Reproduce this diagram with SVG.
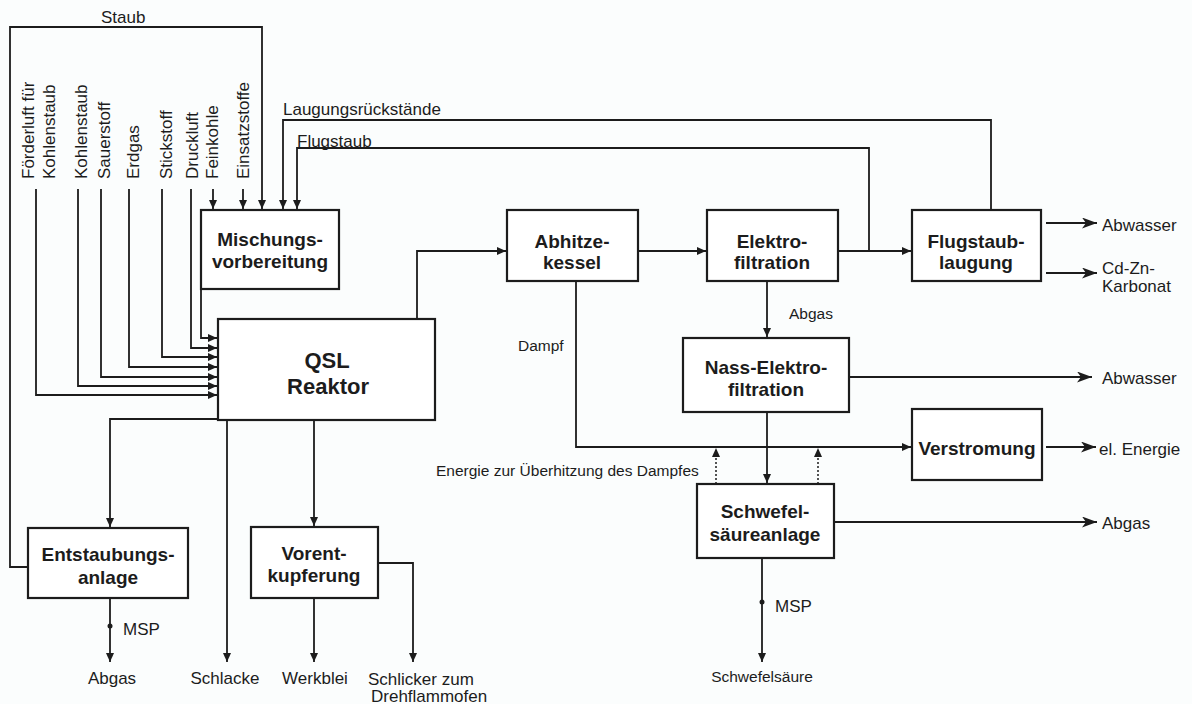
<svg xmlns="http://www.w3.org/2000/svg" width="1192" height="704" viewBox="0 0 1192 704">
  <defs>
    <style>
      .box { fill: #ffffff; stroke: #1c1c1c; stroke-width: 2.2; }
      .ln { fill: none; stroke: #1c1c1c; stroke-width: 1.8; }
      .dot { fill: none; stroke: #1c1c1c; stroke-width: 1.5; stroke-dasharray: 2 2; }
      .t { font-family: "Liberation Sans", Arial, sans-serif; font-size: 17px; fill: #1c1c1c; }
      .s { font-family: "Liberation Sans", Arial, sans-serif; font-size: 15.5px; fill: #1c1c1c; }
      .b { font-family: "Liberation Sans", Arial, sans-serif; font-size: 19px; font-weight: bold; fill: #1c1c1c; text-anchor: middle; }
      .big { font-family: "Liberation Sans", Arial, sans-serif; font-size: 22px; font-weight: bold; fill: #1c1c1c; text-anchor: middle; }
      .m { text-anchor: middle; }
    </style>
    <marker id="ah" markerUnits="userSpaceOnUse" markerWidth="9" markerHeight="8" refX="9" refY="4" orient="auto">
      <path d="M0,0 L9,4 L0,8 z" fill="#1c1c1c"/>
    </marker>
    <marker id="out" markerUnits="userSpaceOnUse" markerWidth="15" markerHeight="11" refX="15" refY="5.5" orient="auto">
      <path d="M0,0 L15,5.5 L0,11 L4,5.5 z" fill="#1c1c1c"/>
    </marker>
  </defs>

  <rect width="1192" height="704" fill="#fbfdfd"/>

  <!-- flow lines -->
  <g id="connectors">
    <!-- Staub recycle from Entstaubungsanlage -->
    <path class="ln" d="M28,567 H10 V27 H262 V209" marker-end="url(#ah)"/>
    <!-- Laugungsrückstände return -->
    <path class="ln" d="M991,210 V120 H283 V209" marker-end="url(#ah)"/>
    <!-- Flugstaub return -->
    <path class="ln" d="M869,251 V148 H297 V209" marker-end="url(#ah)"/>
    <!-- feed inputs into mixing -->
    <path class="ln" d="M213,189 V209" marker-end="url(#ah)"/>
    <path class="ln" d="M243,189 V209" marker-end="url(#ah)"/>
    <!-- feed inputs into reactor -->
    <path class="ln" d="M201,289 V338 H217" marker-end="url(#ah)"/>
    <path class="ln" d="M191,189 V348 H217" marker-end="url(#ah)"/>
    <path class="ln" d="M162,189 V357 H217" marker-end="url(#ah)"/>
    <path class="ln" d="M129,189 V367 H217" marker-end="url(#ah)"/>
    <path class="ln" d="M101,189 V377 H217" marker-end="url(#ah)"/>
    <path class="ln" d="M78,189 V386 H217" marker-end="url(#ah)"/>
    <path class="ln" d="M36,189 V395 H217" marker-end="url(#ah)"/>
    <!-- gas route -->
    <path class="ln" d="M417,319 V251 H506" marker-end="url(#ah)"/>
    <path class="ln" d="M639,251 H706" marker-end="url(#ah)"/>
    <path class="ln" d="M839,251 H911" marker-end="url(#ah)"/>
    <path class="ln" d="M767,282 V337" marker-end="url(#ah)"/>
    <path class="ln" d="M767,413 V483" marker-end="url(#ah)"/>
    <!-- steam to power -->
    <path class="ln" d="M576,282 V447 H911" marker-end="url(#ah)"/>
    <path class="dot" d="M716,484 V448" marker-end="url(#ah)"/>
    <path class="dot" d="M818,484 V448" marker-end="url(#ah)"/>
    <!-- outputs right -->
    <path class="ln" d="M1046,223 H1097" marker-end="url(#out)"/>
    <path class="ln" d="M1046,273 H1097" marker-end="url(#out)"/>
    <path class="ln" d="M850,377 H1092" marker-end="url(#out)"/>
    <path class="ln" d="M1046,447 H1096" marker-end="url(#out)"/>
    <path class="ln" d="M835,522 H1097" marker-end="url(#out)"/>
    <!-- outputs bottom -->
    <path class="ln" d="M762,559 V662" marker-end="url(#ah)"/>
    <circle cx="762" cy="602" r="2.5" fill="#1c1c1c"/>
    <path class="ln" d="M218,419 H110 V527" marker-end="url(#ah)"/>
    <path class="ln" d="M110,599 V662" marker-end="url(#ah)"/>
    <circle cx="110" cy="626" r="2.5" fill="#1c1c1c"/>
    <path class="ln" d="M227,421 V662" marker-end="url(#ah)"/>
    <path class="ln" d="M314,421 V526" marker-end="url(#ah)"/>
    <path class="ln" d="M314,599 V662" marker-end="url(#ah)"/>
    <path class="ln" d="M379,563 H413 V662" marker-end="url(#ah)"/>
  </g>

  <!-- stream labels -->
  <g id="labels">
    <text class="t" x="101" y="23">Staub</text>
    <text class="t" x="283" y="115">Laugungsrückstände</text>
    <text class="t" x="297" y="147">Flugstaub</text>
    <text class="t" transform="translate(34,179) rotate(-90)">Förderluft für</text>
    <text class="t" transform="translate(55,179) rotate(-90)">Kohlenstaub</text>
    <text class="t" transform="translate(87,179) rotate(-90)">Kohlenstaub</text>
    <text class="t" transform="translate(110,179) rotate(-90)">Sauerstoff</text>
    <text class="t" transform="translate(139,179) rotate(-90)">Erdgas</text>
    <text class="t" transform="translate(172,179) rotate(-90)">Stickstoff</text>
    <text class="t" transform="translate(198,179) rotate(-90)">Druckluft</text>
    <text class="t" transform="translate(218,179) rotate(-90)">Feinkohle</text>
    <text class="t" transform="translate(249,179) rotate(-90)">Einsatzstoffe</text>
    <text class="t" x="1102" y="231">Abwasser</text>
    <text class="t" x="1102" y="274">Cd-Zn-</text>
    <text class="t" x="1102" y="292">Karbonat</text>
    <text class="s" x="789" y="319">Abgas</text>
    <text class="s" x="518" y="351">Dampf</text>
    <text class="t" x="1102" y="384">Abwasser</text>
    <text class="t" x="1099" y="455">el. Energie</text>
    <text class="s" x="436" y="476">Energie zur Überhitzung des Dampfes</text>
    <text class="t" x="1102" y="529">Abgas</text>
    <text class="t" x="775" y="612">MSP</text>
    <text class="t" x="123" y="635">MSP</text>
    <text class="t m" x="112" y="684">Abgas</text>
    <text class="t m" x="225" y="684">Schlacke</text>
    <text class="t m" x="315" y="684">Werkblei</text>
    <text class="t" x="368" y="685">Schlicker zum</text>
    <text class="t" x="371" y="702">Drehflammofen</text>
    <text class="s m" x="762" y="682">Schwefelsäure</text>
  </g>

  <g id="mischungsvorbereitung">
    <rect class="box" x="201" y="210" width="138" height="79"/>
    <text class="b" x="270" y="246">Mischungs-</text>
    <text class="b" x="270" y="268">vorbereitung</text>
  </g>
  <g id="qsl-reaktor">
    <rect class="box" x="218" y="319" width="217" height="101"/>
    <text class="big" x="327" y="368">QSL</text>
    <text class="big" x="328" y="394">Reaktor</text>
  </g>
  <g id="abhitzekessel">
    <rect class="box" x="507" y="210" width="131" height="71"/>
    <text class="b" x="572" y="248">Abhitze-</text>
    <text class="b" x="572" y="269">kessel</text>
  </g>
  <g id="elektrofiltration">
    <rect class="box" x="707" y="210" width="131" height="71"/>
    <text class="b" x="772" y="248">Elektro-</text>
    <text class="b" x="772" y="269">filtration</text>
  </g>
  <g id="flugstaublaugung">
    <rect class="box" x="912" y="210" width="129" height="71"/>
    <text class="b" x="976" y="248">Flugstaub-</text>
    <text class="b" x="976" y="269">laugung</text>
  </g>
  <g id="nass-elektrofiltration">
    <rect class="box" x="683" y="338" width="166" height="74"/>
    <text class="b" x="766" y="374">Nass-Elektro-</text>
    <text class="b" x="766" y="396">filtration</text>
  </g>
  <g id="verstromung">
    <rect class="box" x="912" y="409" width="130" height="71"/>
    <text class="b" x="977" y="455">Verstromung</text>
  </g>
  <g id="schwefelsaeureanlage">
    <rect class="box" x="697" y="484" width="137" height="74"/>
    <text class="b" x="765" y="518">Schwefel-</text>
    <text class="b" x="765" y="541">säureanlage</text>
  </g>
  <g id="entstaubungsanlage">
    <rect class="box" x="28" y="528" width="160" height="70"/>
    <text class="b" x="108" y="561">Entstaubungs-</text>
    <text class="b" x="108" y="584">anlage</text>
  </g>
  <g id="vorentkupferung">
    <rect class="box" x="251" y="527" width="127" height="71"/>
    <text class="b" x="314" y="560">Vorent-</text>
    <text class="b" x="314" y="582">kupferung</text>
  </g>
</svg>
